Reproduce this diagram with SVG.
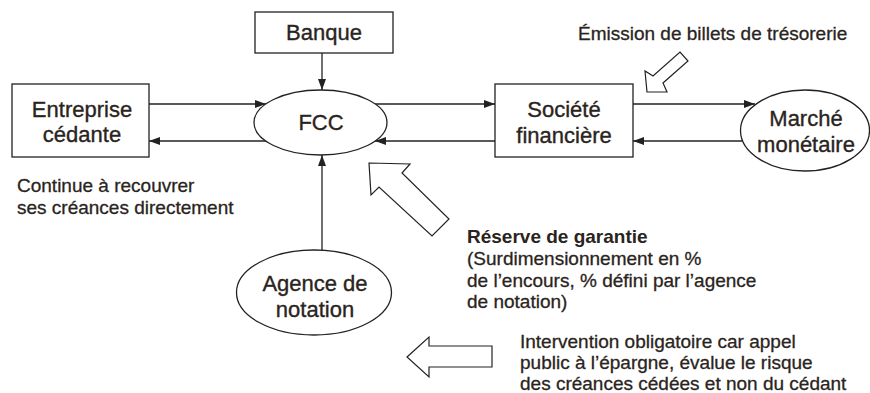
<svg xmlns="http://www.w3.org/2000/svg" width="870" height="393" viewBox="0 0 870 393">
<style>
.shape{fill:#fff;stroke:#222;stroke-width:1.3}
.lbl{font-family:"Liberation Sans",Arial,sans-serif;font-size:22px;fill:#2a2420;stroke:#2a2420;stroke-width:0.35;text-anchor:middle}
.txt{font-family:"Liberation Sans",Arial,sans-serif;font-size:19px;fill:#2a2420;stroke:#2a2420;stroke-width:0.3}
.b{font-weight:bold;stroke-width:0}
.con{fill:none;stroke:#222;stroke-width:1.3}
.big{fill:#fff;stroke:#222;stroke-width:1.2;stroke-linejoin:miter}
</style>
<defs>
<marker id="ah" markerUnits="userSpaceOnUse" markerWidth="11" markerHeight="8" refX="11" refY="4" orient="auto">
<path d="M0,0 L11,4 L0,8 z" fill="#222"/>
</marker>
</defs>
<rect width="870" height="393" fill="#fff"/>
<g id="connectors">
<path class="con" d="M149,104 L266,104" marker-end="url(#ah)"/>
<path class="con" d="M266,141 L149,141" marker-end="url(#ah)"/>
<path class="con" d="M322,53 L322,90" marker-end="url(#ah)"/>
<path class="con" d="M322,250 L322,155" marker-end="url(#ah)"/>
<path class="con" d="M375,104 L495,104" marker-end="url(#ah)"/>
<path class="con" d="M495,141 L375,141" marker-end="url(#ah)"/>
<path class="con" d="M633,104 L755,104" marker-end="url(#ah)"/>
<path class="con" d="M742,141 L633,141" marker-end="url(#ah)"/>
</g>
<g id="banque">
<rect class="shape" x="255" y="12" width="138" height="41"/>
<text class="lbl" x="324" y="40">Banque</text>
</g>
<g id="entreprise">
<rect class="shape" x="12" y="84" width="137" height="73"/>
<text class="lbl" x="82" y="117">Entreprise</text>
<text class="lbl" x="82" y="142">cédante</text>
</g>
<g id="fcc">
<ellipse class="shape" cx="320.5" cy="122.5" rx="66.5" ry="32.5"/>
<text class="lbl" x="321" y="130">FCC</text>
</g>
<g id="societe">
<rect class="shape" x="495" y="84" width="138" height="73"/>
<text class="lbl" x="564" y="117">Société</text>
<text class="lbl" x="564" y="143">financière</text>
</g>
<g id="marche">
<ellipse class="shape" cx="805" cy="130.5" rx="64.5" ry="40.5"/>
<text class="lbl" x="806" y="126">Marché</text>
<text class="lbl" x="806" y="152">monétaire</text>
</g>
<g id="agence">
<ellipse class="shape" cx="314" cy="292.5" rx="77.5" ry="42.5"/>
<text class="lbl" x="315" y="291">Agence de</text>
<text class="lbl" x="315" y="317">notation</text>
</g>
<g id="emission">
<polygon class="big" points="647,92 645,71 653,76 680,52 688,61 663,83 667,92"/>
<text class="txt" x="578" y="40">Émission de billets de trésorerie</text>
</g>
<g id="reserve">
<polygon class="big" points="369,163 410,164 402,173 449,219 432,236 379,187 371,195"/>
<text class="txt" x="467" y="243"><tspan class="b">Réserve de garantie</tspan><tspan x="467" y="265">(Surdimensionnement en %</tspan><tspan x="467" y="287">de l’encours, % défini par l’agence</tspan><tspan x="467" y="308">de notation)</tspan></text>
</g>
<g id="continue">
<text class="txt" x="17" y="192">Continue à recouvrer<tspan x="17" y="214">ses créances directement</tspan></text>
</g>
<g id="intervention">
<polygon class="big" points="407,357 429,337 429,346 492,346 492,367 429,367 429,377"/>
<text class="txt" x="520" y="348">Intervention obligatoire car appel<tspan x="520" y="369">public à l’épargne, évalue le risque</tspan><tspan x="520" y="390">des créances cédées et non du cédant</tspan></text>
</g>
</svg>
